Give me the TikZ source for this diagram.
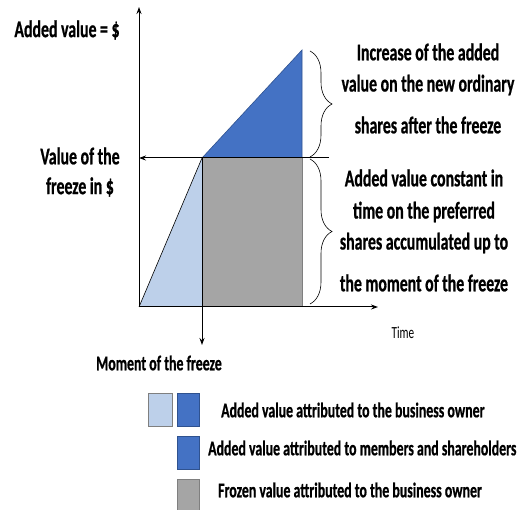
\documentclass[tikz,border=0pt]{standalone}
\usepackage{fontspec}
\setmainfont{Carlito}[FakeStretch=0.66, BoldFeatures={FakeBold=0.7}]
\usetikzlibrary{decorations.pathreplacing,arrows.meta}
\definecolor{lblue}{HTML}{BDD0EA}
\definecolor{mblue}{HTML}{4472C4}
\definecolor{dblue}{HTML}{2F528F}
\definecolor{mgray}{HTML}{A5A5A5}
\definecolor{dgray}{HTML}{7F7F7F}
\begin{document}
\begin{tikzpicture}[x=1pt,y=-1pt,
  lbl/.style={font=\bfseries\fontsize{24}{28}\selectfont, inner sep=0pt},
  big/.style={font=\bfseries\fontsize{24}{28}\selectfont, inner sep=0pt},
  leg/.style={font=\bfseries\fontsize{21}{25}\selectfont, inner sep=0pt, anchor=west},
  axis/.style={line width=1pt, -{Stealth[length=7pt,width=5pt]}},
  brc/.style={decorate, decoration={brace, amplitude=22pt}, line width=0.6pt},
  sw/.style={minimum width=22pt, minimum height=33pt, inner sep=0pt, line width=0.8pt}]
\useasboundingbox (0,0) rectangle (531,510);
% key points
\coordinate (O) at (139,307);
\coordinate (ytop) at (139,7);
\coordinate (xend) at (378,307);
\coordinate (F) at (202,158);
\coordinate (Fb) at (202,307);
\coordinate (G) at (302,307);
\coordinate (Gt) at (302,158);
\coordinate (T) at (302,50);
\coordinate (hR) at (329,158);
\coordinate (hL) at (139,158);
\coordinate (vB) at (202,345);
% areas
\fill[lblue] (O) -- (F) -- (Fb) -- cycle;
\draw[line width=0.6pt] (O) -- (F);
\fill[mgray] (F) rectangle (G);
\draw[dgray, line width=1pt] (Gt) -- (G);
\fill[mblue] (F) -- (T) -- (Gt) -- cycle;
\draw[dblue, line width=0.6pt] (F) -- (T) -- (Gt);
% axes and guides
\draw[axis] (O) -- (ytop);
\draw[axis] (O) -- (xend);
\draw[axis] (hR) -- (hL);
\draw[axis] (F) -- (vB);
% braces
\coordinate (b1t) at (310,51);
\coordinate (b1b) at (310,157);
\coordinate (b2t) at (310,159);
\coordinate (b2b) at (310,304);
\draw[brc] (b1t) -- (b1b);
\draw[brc] (b2t) -- (b2b);
% axis labels
\node[big] (yl) at (67,30) {Added value = \$};
\node[big] (vf1) at (80,156) {Value of the};
\node[big] (vf2) at (80,187) {freeze in \$};
\node[leg, anchor=center] (mf) at (159,363) {Moment of the freeze};
\node[font=\fontsize{17}{20}\selectfont, inner sep=0pt] (tm) at (403,333) {Time};
% right texts
\node[lbl] (r1) at (428,52) {Increase of the added};
\node[lbl] (r2) at (428,85) {value on the new ordinary};
\node[lbl] (r3) at (428,125) {shares after the freeze};
\node[lbl] (s1) at (424,178) {Added value constant in};
\node[lbl] (s2) at (424,212) {time on the preferred};
\node[lbl] (s3) at (424,243) {shares accumulated up to};
\node[lbl] (s4) at (424,283) {the moment of the freeze};
% legend
\node[sw, fill=lblue, draw=dgray, minimum width=24pt] (k1) at (160,409.5) {};
\node[sw, fill=mblue, draw=dblue] (k2) at (188,409.5) {};
\node[sw, fill=mblue, draw=dblue] (k3) at (188,453) {};
\node[sw, fill=mgray, draw=dgray, minimum height=31pt] (k4) at (188,495) {};
\node[leg] (t1) at (221,410) {Added value attributed to the business owner};
\node[leg] (t2) at (208,448) {Added value attributed to members and shareholders};
\node[leg] (t3) at (218,490) {Frozen value attributed to the business owner};
\end{tikzpicture}
\end{document}
